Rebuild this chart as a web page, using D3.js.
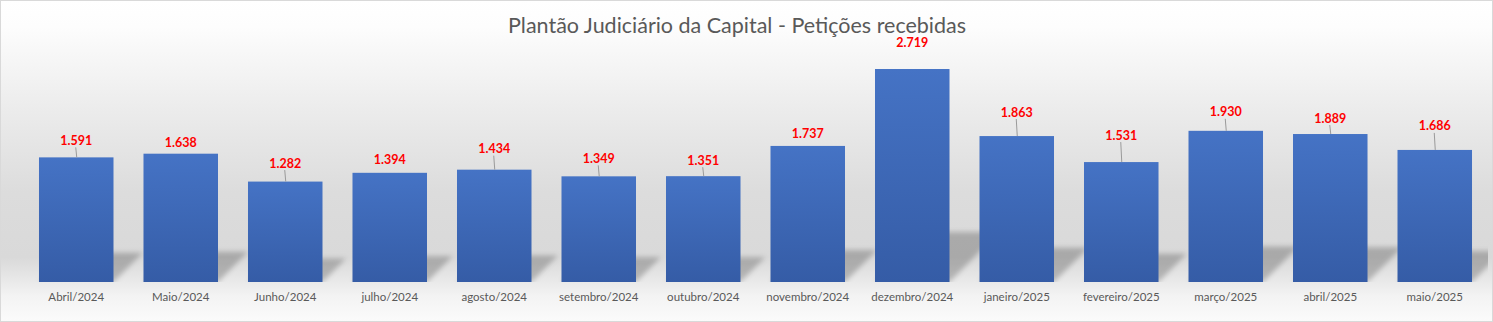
<!DOCTYPE html>
<html><head><meta charset="utf-8">
<script src="https://cdn.jsdelivr.net/npm/d3@7"></script>
<style>body{margin:0;background:#fff}svg{display:block}</style>
</head><body>
<script>
const categories = ["Abril/2024","Maio/2024","Junho/2024","julho/2024","agosto/2024","setembro/2024","outubro/2024","novembro/2024","dezembro/2024","janeiro/2025","fevereiro/2025","março/2025","abril/2025","maio/2025"];
const values = [1591,1638,1282,1394,1434,1349,1351,1737,2719,1863,1531,1930,1889,1686];
const yDomain = [0, 3000];
const title = "Plantão Judiciário da Capital - Petições recebidas";
// manual data-label placement (as moved in the original): gap above bar top, and whether a leader line shows
const labelGap = [17,11.5,18.5,13,21,18,16,12,27,24,27,19,16,24];
const leaderShown = [1,0,1,0,1,1,1,0,0,1,1,1,1,1];

const W = 1493, H = 322;
const fmt = d3.formatLocale({decimal:",", thousands:".", grouping:[3], currency:["R$",""]}).format(",d");

const svg = d3.select("body").append("svg").attr("width", W).attr("height", H);
const defs = svg.append("defs");

const bg = defs.append("linearGradient").attr("id","bg").attr("x1",0).attr("y1",0).attr("x2",0).attr("y2",1);
[[0,"#ffffff"],[0.08,"#fdfdfd"],[0.35,"#ebebeb"],[0.6,"#dcdcdc"],[0.8,"#d9d9d9"],[0.92,"#f3f3f3"],[1,"#fbfbfb"]]
  .forEach(([o,c]) => bg.append("stop").attr("offset",o).attr("stop-color",c));

const bar = defs.append("linearGradient").attr("id","bar").attr("x1",0).attr("y1",0).attr("x2",0).attr("y2",1);
bar.append("stop").attr("offset",0).attr("stop-color","#4573c5");
bar.append("stop").attr("offset",1).attr("stop-color","#355ca6");

defs.append("filter").attr("id","blur").attr("x","-20%").attr("y","-20%").attr("width","140%").attr("height","140%")
  .append("feGaussianBlur").attr("stdDeviation",2.5);

defs.append("clipPath").attr("id","plotclip").append("rect")
  .attr("x",4).attr("y",30).attr("width",1484).attr("height",252);

svg.append("rect").attr("x",0.5).attr("y",0.5).attr("width",W-1).attr("height",H-1)
  .attr("fill","url(#bg)").attr("stroke","#d9d9d9");

const x = d3.scaleBand().domain(categories).range([24.25, 1486.75]).paddingInner(0.287).paddingOuter(0.141);
const y = d3.scaleLinear().domain(yDomain).range([282, 47]);
const data = categories.map((c,i) => ({c, v: values[i], i}));
const base = y(0);

// perspective shadows
svg.append("g").attr("clip-path","url(#plotclip)")
  .selectAll("path").data(data).join("path")
  .attr("d", d => {
    const x0 = x(d.c), x1 = x0 + x.bandwidth();
    const h = (base - y(d.v)) * 0.235, s = h * 1.0;
    return `M${x0},${base}L${x1},${base}L${x1+s},${base-h}L${x0+s},${base-h}Z`;
  })
  .attr("fill","#000").attr("fill-opacity",0.22).attr("filter","url(#blur)");

// bars
svg.append("g").selectAll("rect").data(data).join("rect")
  .attr("x", d => x(d.c)).attr("y", d => y(d.v))
  .attr("width", x.bandwidth()).attr("height", d => base - y(d.v))
  .attr("fill","url(#bar)");

// leader lines
svg.append("g").selectAll("line").data(data.filter(d => leaderShown[d.i])).join("line")
  .attr("x1", d => x(d.c) + x.bandwidth()/2 - 0.5)
  .attr("x2", d => x(d.c) + x.bandwidth()/2 + 0.5)
  .attr("y1", d => y(d.v) - labelGap[d.i] + 7)
  .attr("y2", d => y(d.v))
  .attr("stroke","#9a9a9a").attr("stroke-width",1);

// data labels
svg.append("g").selectAll("text").data(data).join("text")
  .attr("x", d => x(d.c) + x.bandwidth()/2)
  .attr("y", d => y(d.v) - labelGap[d.i] + 4.5)
  .attr("text-anchor","middle")
  .attr("font-family","Lato, 'Open Sans', sans-serif").attr("font-weight","bold").attr("font-size","12.5px")
  .attr("fill","#ff0000")
  .text(d => fmt(d.v));

// x axis (no line, no ticks)
const xAxis = d3.axisBottom(x).tickSize(0).tickPadding(0);
const gx = svg.append("g").attr("transform", `translate(0,${base})`).call(xAxis);
gx.select(".domain").remove();
gx.selectAll("text").attr("dy", null).attr("y", 18.5)
  .attr("font-family","Lato, 'Open Sans', sans-serif").attr("font-size","11.5px").attr("fill","#595959");

// title
svg.append("text").attr("x", 737).attr("y", 32.5).attr("text-anchor","middle")
  .attr("font-family","Lato, 'Open Sans', sans-serif").attr("font-weight","400").attr("font-size","21px").attr("fill","#595959")
  .attr("textLength", 458).attr("lengthAdjust","spacingAndGlyphs")
  .text(title);
</script>
</body></html>
